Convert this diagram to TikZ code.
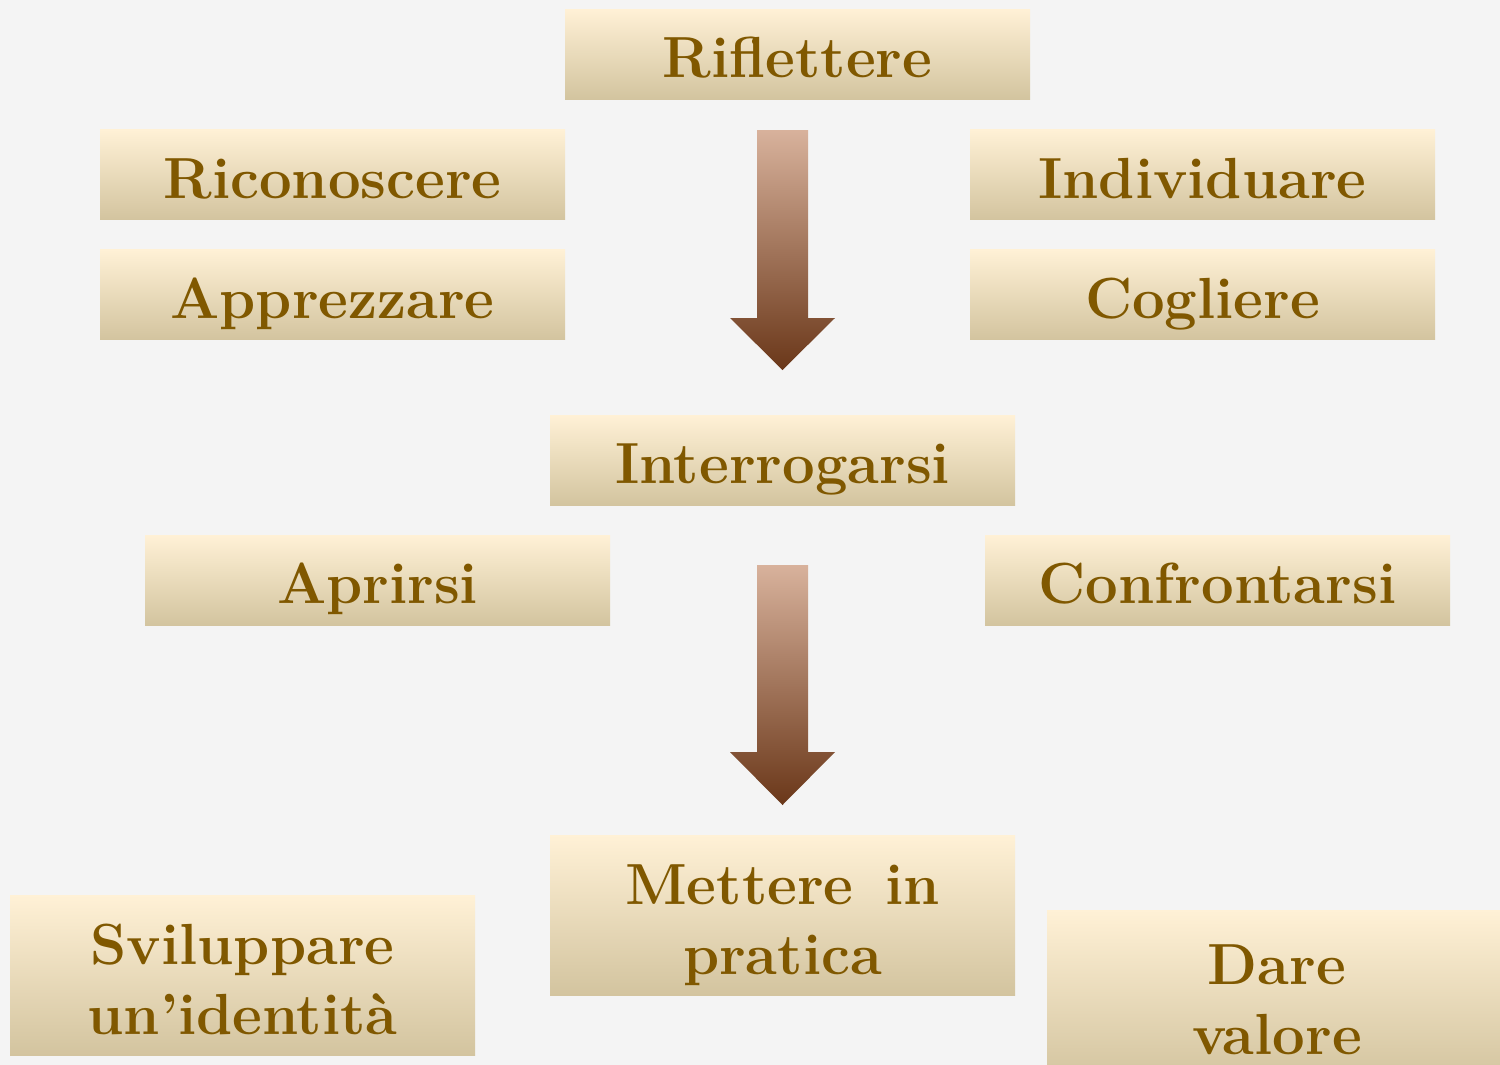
\documentclass[tikz,border=0pt]{standalone}
\usepackage{tikz}
\usetikzlibrary{positioning}
\definecolor{boxtop}{HTML}{FFF1D6}
\definecolor{boxbot}{HTML}{D3C49F}
\definecolor{wordcol}{HTML}{805800}
\definecolor{arrtop}{HTML}{D8B29C}
\definecolor{arrbot}{HTML}{6A3719}
\definecolor{backcol}{HTML}{F4F4F4}

\begin{document}
\begin{tikzpicture}[
        verbbox/.style={rectangle,minimum width=4.65cm,minimum height=0.9cm,
            top color=boxtop,bottom color=boxbot,text=wordcol,align=center,
            text height=14pt,text depth=0.6pt,
            font=\fontsize{16.5}{20}\selectfont\bfseries},
        tallbox/.style={verbbox,minimum height=1.6cm,text height=34pt,text depth=0pt},
        downarrow/.style={top color=arrtop,bottom color=arrbot}
    ]
    \useasboundingbox (0,0) rectangle (15,-10.65);
    \fill[backcol] (0,0) rectangle (15,-10.65);
    \begin{scope}
        \clip (0,0) rectangle (15,-10.65);
        \node[verbbox] (riflettere) at (7.975,-0.54) {Riflettere};
        \node[verbbox] (riconoscere) at (3.325,-1.745) {Riconoscere};
        \node[verbbox] (individuare) at (12.025,-1.745) {Individuare};
        \node[verbbox] (apprezzare) at (3.325,-2.945) {Apprezzare};
        \node[verbbox] (cogliere) at (12.025,-2.945) {Cogliere};
        \node[verbbox] (interrogarsi) at (7.825,-4.6) {Interrogarsi};
        \node[verbbox] (aprirsi) at (3.775,-5.8) {Aprirsi};
        \node[verbbox] (confrontarsi) at (12.175,-5.8) {Confrontarsi};
        \node[tallbox] (mettere) at (7.825,-9.15) {Mettere\hspace{0.55em}in\\pratica};
        \node[tallbox] (sviluppare) at (2.425,-9.75) {Sviluppare\\un'identità};
        \node[tallbox,minimum width=4.6cm,minimum height=1.7cm] (dare) at (12.77,-9.95) {Dare\\valore};
        \shade[downarrow] (7.57,-1.3) -- (8.08,-1.3) -- (8.08,-3.18) -- (8.35,-3.18)
            -- (7.825,-3.7) -- (7.3,-3.18) -- (7.57,-3.18) -- cycle;
        \shade[downarrow] (7.57,-5.65) -- (8.08,-5.65) -- (8.08,-7.52) -- (8.35,-7.52)
            -- (7.825,-8.05) -- (7.3,-7.52) -- (7.57,-7.52) -- cycle;
    \end{scope}
\end{tikzpicture}
\end{document}
